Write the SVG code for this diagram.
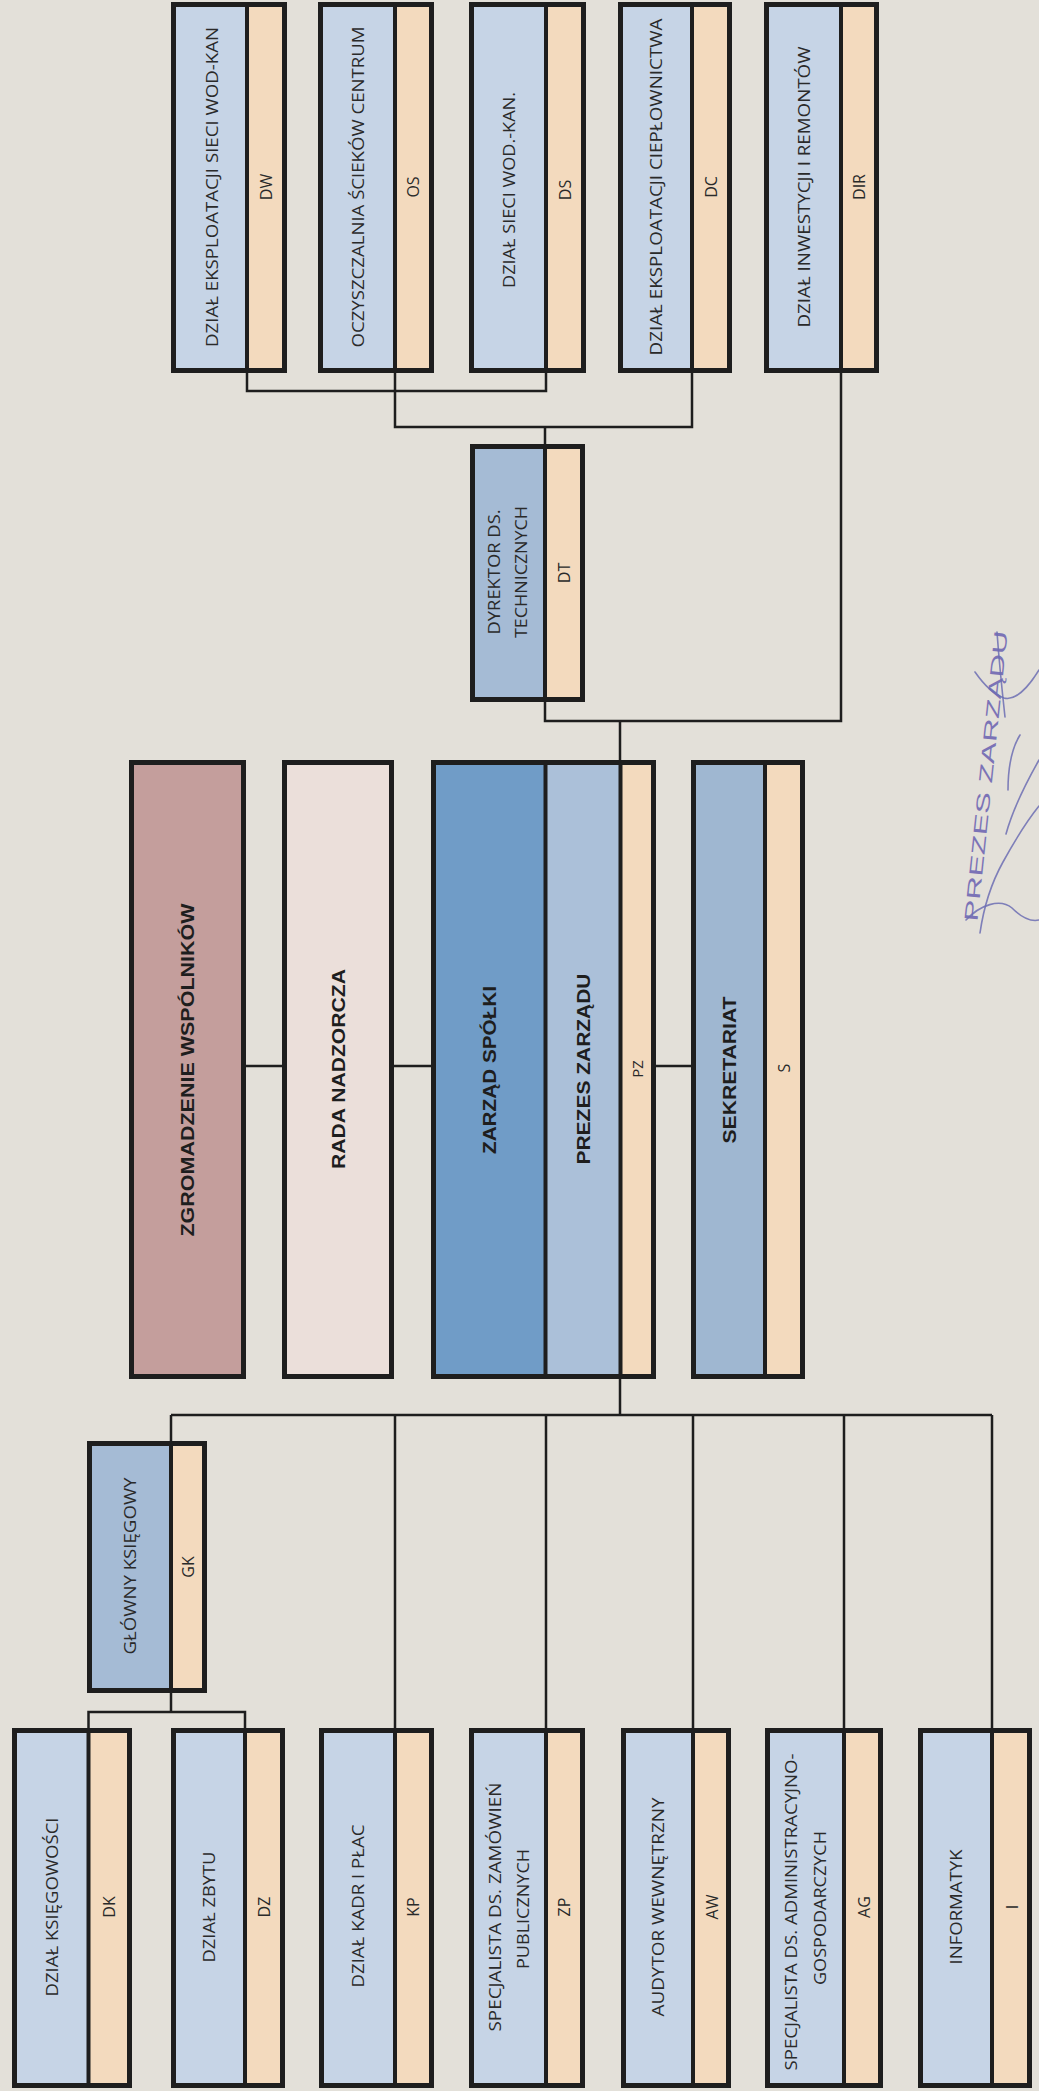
<svg xmlns="http://www.w3.org/2000/svg" width="1039" height="2091" viewBox="0 0 1039 2091">
<style>
.bg{fill:#e3e0d9}
.lb{fill:#c6d4e6}
.mb{fill:#a5bbd5}
.db{fill:#709cc7}
.pb{fill:#abc0d9}
.sb{fill:#9fb7d1}
.or{fill:#f3dabe}
.zg{fill:#c49e9c}
.rn{fill:#ebdfda}
.box{fill:none;stroke:#1e1e1e;stroke-width:5}
.dv{stroke:#1e1e1e;stroke-width:4}
.conn{fill:none;stroke:#1e1e1e;stroke-width:2.5}
.t{font-family:"Open Sans","Liberation Sans",sans-serif;font-size:16px;fill:#2a2a2a;text-anchor:middle;dominant-baseline:central}
.tb{font-family:"Liberation Sans",Arial,sans-serif;font-weight:bold;font-size:19px;fill:#1e1e1e;text-anchor:middle;dominant-baseline:central}
.stamp{font-family:"Liberation Sans",Arial,sans-serif;font-size:19px;fill:#7b73b6;text-anchor:middle;dominant-baseline:central}
.sig{fill:none;stroke:#6c6db3;stroke-width:1.6;stroke-linecap:round;opacity:0.85}
</style>
<rect class="bg" x="0" y="0" width="1039" height="2091"/>

<g id="connectors">
<path class="conn" d="M247 370 V391 H546 V370"/>
<path class="conn" d="M395 370 V427 H692 V370"/>
<path class="conn" d="M545 427 V721 H841 V370"/>
<path class="conn" d="M620 721 V763"/>
<path class="conn" d="M620 1376 V1415"/>
<path class="conn" d="M171 1415 H992"/>
<path class="conn" d="M171 1415 V1712"/>
<path class="conn" d="M88.5 1731 V1712 H245 V1731"/>
<path class="conn" d="M395 1415 V1731"/>
<path class="conn" d="M546 1415 V1731"/>
<path class="conn" d="M693 1415 V1731"/>
<path class="conn" d="M844 1415 V1731"/>
<path class="conn" d="M992 1415 V1731"/>
<path class="conn" d="M243 1066 H285"/>
<path class="conn" d="M391 1066 H434"/>
<path class="conn" d="M653 1066 H694"/>
</g>

<g id="node-dw">
<rect class="lb" x="173.5" y="4.5" width="73.5" height="366"/><rect class="or" x="247" y="4.5" width="37.5" height="366"/>
<line class="dv" x1="247" y1="4.5" x2="247" y2="370.5"/><rect class="box" x="173.5" y="4.5" width="111" height="366"/>
<text class="t" transform="translate(212 187) rotate(-90)" textLength="320" lengthAdjust="spacingAndGlyphs">DZIAŁ EKSPLOATACJI SIECI WOD-KAN</text>
<text class="t" transform="translate(266 187) rotate(-90)">DW</text>
</g>
<g id="node-os">
<rect class="lb" x="320.5" y="4.5" width="74.5" height="366"/><rect class="or" x="395" y="4.5" width="36.5" height="366"/>
<line class="dv" x1="395" y1="4.5" x2="395" y2="370.5"/><rect class="box" x="320.5" y="4.5" width="111" height="366"/>
<text class="t" transform="translate(358 187) rotate(-90)" textLength="321" lengthAdjust="spacingAndGlyphs">OCZYSZCZALNIA ŚCIEKÓW CENTRUM</text>
<text class="t" transform="translate(413 187) rotate(-90)">OS</text>
</g>
<g id="node-ds">
<rect class="lb" x="471.5" y="4.5" width="74.5" height="366"/><rect class="or" x="546" y="4.5" width="37.5" height="366"/>
<line class="dv" x1="546" y1="4.5" x2="546" y2="370.5"/><rect class="box" x="471.5" y="4.5" width="112" height="366"/>
<text class="t" transform="translate(509 190) rotate(-90)" textLength="196" lengthAdjust="spacingAndGlyphs">DZIAŁ SIECI WOD.-KAN.</text>
<text class="t" transform="translate(565 190) rotate(-90)">DS</text>
</g>
<g id="node-dc">
<rect class="lb" x="620.5" y="4.5" width="71.5" height="366"/><rect class="or" x="692" y="4.5" width="37.5" height="366"/>
<line class="dv" x1="692" y1="4.5" x2="692" y2="370.5"/><rect class="box" x="620.5" y="4.5" width="109" height="366"/>
<text class="t" transform="translate(656 187) rotate(-90)" textLength="337" lengthAdjust="spacingAndGlyphs">DZIAŁ EKSPLOATACJI CIEPŁOWNICTWA</text>
<text class="t" transform="translate(711 187) rotate(-90)">DC</text>
</g>
<g id="node-dir">
<rect class="lb" x="766.5" y="4.5" width="74.5" height="366"/><rect class="or" x="841" y="4.5" width="35.5" height="366"/>
<line class="dv" x1="841" y1="4.5" x2="841" y2="370.5"/><rect class="box" x="766.5" y="4.5" width="110" height="366"/>
<text class="t" transform="translate(804 187) rotate(-90)" textLength="281" lengthAdjust="spacingAndGlyphs">DZIAŁ INWESTYCJI I REMONTÓW</text>
<text class="t" transform="translate(859 187) rotate(-90)">DIR</text>
</g>

<g id="node-dt">
<rect class="mb" x="472.5" y="446.5" width="72.5" height="253"/><rect class="or" x="545" y="446.5" width="37.5" height="253"/>
<line class="dv" x1="545" y1="446.5" x2="545" y2="699.5"/><rect class="box" x="472.5" y="446.5" width="110" height="253"/>
<text class="t" transform="translate(494 572) rotate(-90)" textLength="125" lengthAdjust="spacingAndGlyphs">DYREKTOR DS.</text>
<text class="t" transform="translate(521 572) rotate(-90)" textLength="132" lengthAdjust="spacingAndGlyphs">TECHNICZNYCH</text>
<text class="t" transform="translate(564 573) rotate(-90)">DT</text>
</g>

<g id="node-zgromadzenie">
<rect class="zg" x="131.5" y="762.5" width="112" height="614"/><rect class="box" x="131.5" y="762.5" width="112" height="614"/>
<text class="tb" transform="translate(187.5 1070) rotate(-90)" textLength="333" lengthAdjust="spacingAndGlyphs">ZGROMADZENIE WSPÓLNIKÓW</text>
</g>
<g id="node-rada">
<rect class="rn" x="284.5" y="762.5" width="107" height="614"/><rect class="box" x="284.5" y="762.5" width="107" height="614"/>
<text class="tb" transform="translate(338 1069) rotate(-90)" textLength="200" lengthAdjust="spacingAndGlyphs">RADA NADZORCZA</text>
</g>
<g id="node-zarzad">
<rect class="db" x="433.5" y="762.5" width="112" height="614"/><rect class="pb" x="545.5" y="762.5" width="75" height="614"/><rect class="or" x="620.5" y="762.5" width="33" height="614"/>
<line class="dv" x1="545.5" y1="762.5" x2="545.5" y2="1376.5"/><line class="dv" x1="620.5" y1="762.5" x2="620.5" y2="1376.5"/>
<rect class="box" x="433.5" y="762.5" width="220" height="614"/>
<text class="tb" transform="translate(489.5 1070) rotate(-90)" textLength="168" lengthAdjust="spacingAndGlyphs">ZARZĄD SPÓŁKI</text>
<text class="tb" transform="translate(583 1069) rotate(-90)" textLength="191" lengthAdjust="spacingAndGlyphs">PREZES ZARZĄDU</text>
<text class="t" transform="translate(637 1069) rotate(-90)" style="font-size:15px">PZ</text>
</g>
<g id="node-sekretariat">
<rect class="sb" x="693.5" y="762.5" width="71.5" height="614"/><rect class="or" x="765" y="762.5" width="37.5" height="614"/>
<line class="dv" x1="765" y1="762.5" x2="765" y2="1376.5"/><rect class="box" x="693.5" y="762.5" width="109" height="614"/>
<text class="tb" transform="translate(729 1070) rotate(-90)" textLength="147" lengthAdjust="spacingAndGlyphs">SEKRETARIAT</text>
<text class="t" transform="translate(784 1068) rotate(-90)">S</text>
</g>

<g id="node-gk">
<rect class="mb" x="89.5" y="1443.5" width="81.5" height="247"/><rect class="or" x="171" y="1443.5" width="33.5" height="247"/>
<line class="dv" x1="171" y1="1443.5" x2="171" y2="1690.5"/><rect class="box" x="89.5" y="1443.5" width="115" height="247"/>
<text class="t" transform="translate(130 1566) rotate(-90)" textLength="177" lengthAdjust="spacingAndGlyphs">GŁÓWNY KSIĘGOWY</text>
<text class="t" transform="translate(188 1567) rotate(-90)">GK</text>
</g>

<g id="node-dk">
<rect class="lb" x="14.5" y="1730.5" width="74" height="355"/><rect class="or" x="88.5" y="1730.5" width="41" height="355"/>
<line class="dv" x1="88.5" y1="1730.5" x2="88.5" y2="2085.5"/><rect class="box" x="14.5" y="1730.5" width="115" height="355"/>
<text class="t" transform="translate(51.5 1907) rotate(-90)" textLength="179" lengthAdjust="spacingAndGlyphs">DZIAŁ KSIĘGOWOŚCI</text>
<text class="t" transform="translate(109 1907) rotate(-90)">DK</text>
</g>
<g id="node-dz">
<rect class="lb" x="173.5" y="1730.5" width="71.5" height="355"/><rect class="or" x="245" y="1730.5" width="37.5" height="355"/>
<line class="dv" x1="245" y1="1730.5" x2="245" y2="2085.5"/><rect class="box" x="173.5" y="1730.5" width="109" height="355"/>
<text class="t" transform="translate(209 1907) rotate(-90)" textLength="111" lengthAdjust="spacingAndGlyphs">DZIAŁ ZBYTU</text>
<text class="t" transform="translate(264 1907) rotate(-90)">DZ</text>
</g>
<g id="node-kp">
<rect class="lb" x="321.5" y="1730.5" width="73.5" height="355"/><rect class="or" x="395" y="1730.5" width="36.5" height="355"/>
<line class="dv" x1="395" y1="1730.5" x2="395" y2="2085.5"/><rect class="box" x="321.5" y="1730.5" width="110" height="355"/>
<text class="t" transform="translate(358 1906) rotate(-90)" textLength="163" lengthAdjust="spacingAndGlyphs">DZIAŁ KADR I PŁAC</text>
<text class="t" transform="translate(413 1907) rotate(-90)">KP</text>
</g>
<g id="node-zp">
<rect class="lb" x="471.5" y="1730.5" width="74.5" height="355"/><rect class="or" x="546" y="1730.5" width="36.5" height="355"/>
<line class="dv" x1="546" y1="1730.5" x2="546" y2="2085.5"/><rect class="box" x="471.5" y="1730.5" width="111" height="355"/>
<text class="t" transform="translate(495 1907) rotate(-90)" textLength="249" lengthAdjust="spacingAndGlyphs">SPECJALISTA DS. ZAMÓWIEŃ</text>
<text class="t" transform="translate(523 1909) rotate(-90)" textLength="120" lengthAdjust="spacingAndGlyphs">PUBLICZNYCH</text>
<text class="t" transform="translate(564 1907) rotate(-90)">ZP</text>
</g>
<g id="node-aw">
<rect class="lb" x="623.5" y="1730.5" width="69.5" height="355"/><rect class="or" x="693" y="1730.5" width="35.5" height="355"/>
<line class="dv" x1="693" y1="1730.5" x2="693" y2="2085.5"/><rect class="box" x="623.5" y="1730.5" width="105" height="355"/>
<text class="t" transform="translate(658 1907) rotate(-90)" textLength="219" lengthAdjust="spacingAndGlyphs">AUDYTOR WEWNĘTRZNY</text>
<text class="t" transform="translate(712 1907) rotate(-90)">AW</text>
</g>
<g id="node-ag">
<rect class="lb" x="767.5" y="1730.5" width="76.5" height="355"/><rect class="or" x="844" y="1730.5" width="36.5" height="355"/>
<line class="dv" x1="844" y1="1730.5" x2="844" y2="2085.5"/><rect class="box" x="767.5" y="1730.5" width="113" height="355"/>
<text class="t" transform="translate(791 1912) rotate(-90)" textLength="317" lengthAdjust="spacingAndGlyphs">SPECJALISTA DS. ADMINISTRACYJNO-</text>
<text class="t" transform="translate(820 1908) rotate(-90)" textLength="154" lengthAdjust="spacingAndGlyphs">GOSPODARCZYCH</text>
<text class="t" transform="translate(864 1907) rotate(-90)">AG</text>
</g>
<g id="node-i">
<rect class="lb" x="920.5" y="1730.5" width="71.5" height="355"/><rect class="or" x="992" y="1730.5" width="37.5" height="355"/>
<line class="dv" x1="992" y1="1730.5" x2="992" y2="2085.5"/><rect class="box" x="920.5" y="1730.5" width="109" height="355"/>
<text class="t" transform="translate(956 1907) rotate(-90)" textLength="115" lengthAdjust="spacingAndGlyphs">INFORMATYK</text>
<text class="t" transform="translate(1012 1907) rotate(-90)">I</text>
</g>

<g id="stamp">
<text class="stamp" transform="translate(986 776) rotate(-84)" textLength="292" lengthAdjust="spacingAndGlyphs">PREZES ZARZĄDU</text>
<path class="sig" d="M997 632 C999 660 1002 690 1005 717"/>
<path class="sig" d="M975 672 C982 682 992 694 1004 698 C1015 701 1028 688 1039 670"/>
<path class="sig" d="M1020 735 C1012 748 1008 765 1008 790"/>
<path class="sig" d="M980 933 C984 905 993 880 1003 862 C1014 842 1026 822 1039 806"/>
<path class="sig" d="M1006 834 C1012 812 1022 790 1039 760"/>
<path class="sig" d="M966 920 C980 905 1000 898 1012 908 C1020 916 1030 922 1039 920"/>
</g>
</svg>
